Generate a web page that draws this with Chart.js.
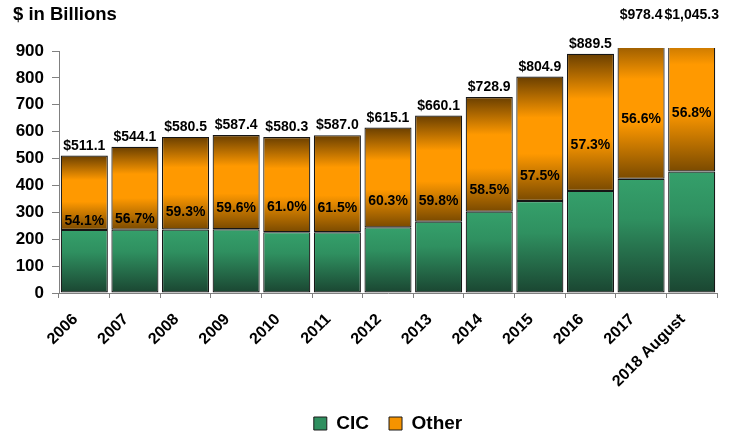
<!DOCTYPE html>
<html>
<head>
<meta charset="utf-8">
<script src="https://cdn.jsdelivr.net/npm/chart.js@4.4.1/dist/chart.umd.min.js"></script>
<style>
  html, body { margin: 0; padding: 0; background: #fff; }
  canvas { display: block; }
</style>
</head>
<body>
<canvas id="chart" width="743" height="436"></canvas>
<script>
// Years on the category axis
const categories = ['2006', '2007', '2008', '2009', '2010', '2011', '2012', '2013', '2014', '2015', '2016', '2017', '2018 August'];
// Total assets, $ billions (label above each bar)
const totals = [511.1, 544.1, 580.5, 587.4, 580.3, 587.0, 615.1, 660.1, 728.9, 804.9, 889.5, 978.4, 1045.3];
// Share of the total held by "Other", percent
const otherShare = [54.1, 56.7, 59.3, 59.6, 61.0, 61.5, 60.3, 59.8, 58.5, 57.5, 57.3, 56.6, 56.8];
// Value-axis tick labels
const yTicks = [0, 100, 200, 300, 400, 500, 600, 700, 800, 900];

// Split each total into its CIC and Other parts from the stated share
const otherValues = totals.map((t, i) => +(t * otherShare[i] / 100).toFixed(1));
const cicValues = totals.map((t, i) => +(t - otherValues[i]).toFixed(1));

// Level (in $ billions) at which each share label is written inside the Other segment
const shareLabelAt = [269, 276, 299, 316, 319, 316, 340, 340, 384, 434, 549, 646, 670];

const FONT = '"Liberation Sans", Arial, Helvetica, sans-serif';
Chart.defaults.font.family = FONT;
Chart.defaults.color = '#000';

const GREEN_STOPS = [[0, '#35a06b'], [0.35, '#2f9060'], [1, '#1a4531']];
const ORANGE_STOPS = [[0, '#6a3f00'], [0.33, '#ff9900'], [0.62, '#ff9900'], [1, '#7a4a00']];

function segmentFill(kind) {
  return (c) => {
    const chart = c.chart;
    if (c.type !== 'data' || !chart.chartArea || !chart.scales.y) {
      return kind === 'cic' ? '#2f8f5f' : '#f59300';
    }
    const y = chart.scales.y;
    const i = c.dataIndex;
    const lo = kind === 'cic' ? 0 : cicValues[i];
    const hi = kind === 'cic' ? cicValues[i] : totals[i];
    const g = chart.ctx.createLinearGradient(0, y.getPixelForValue(hi), 0, y.getPixelForValue(lo));
    (kind === 'cic' ? GREEN_STOPS : ORANGE_STOPS).forEach(([p, col]) => g.addColorStop(p, col));
    return g;
  };
}

// Heading, totals above the bars and the Other share inside each bar
const barLabels = {
  id: 'barLabels',
  afterDatasetsDraw(chart) {
    const { ctx, chartArea, scales: { x, y } } = chart;
    ctx.save();
    ctx.fillStyle = '#000';
    ctx.textAlign = 'left';
    ctx.textBaseline = 'middle';
    ctx.font = 'bold 18.5px ' + FONT;
    ctx.fillText('$ in Billions', 13, 15);

    ctx.textAlign = 'center';
    ctx.font = 'bold 14px ' + FONT;
    categories.forEach((cat, i) => {
      const cx = x.getPixelForValue(i);
      const topPx = y.getPixelForValue(totals[i]);
      const total = '$' + totals[i].toLocaleString('en-US', { minimumFractionDigits: 1, maximumFractionDigits: 1 });
      ctx.textBaseline = 'alphabetic';
      if (topPx < chartArea.top) {
        ctx.fillText(total, cx, 19);
      } else {
        ctx.fillText(total, cx, topPx - 6);
      }
      ctx.textBaseline = 'middle';
      ctx.fillText(otherShare[i].toFixed(1) + '%', cx, y.getPixelForValue(shareLabelAt[i]));
    });
    ctx.restore();
  }
};

const barStyle = {
  borderColor: '#161616',
  borderWidth: 1.2,
  borderSkipped: false,
  barPercentage: 0.93,
  categoryPercentage: 1.0,
  clip: { left: false, top: 3, right: false, bottom: false }
};

new Chart(document.getElementById('chart'), {
  type: 'bar',
  data: {
    labels: categories,
    datasets: [
      Object.assign({ label: 'CIC', data: cicValues, backgroundColor: segmentFill('cic') }, barStyle),
      Object.assign({ label: 'Other', data: otherValues, backgroundColor: segmentFill('other') }, barStyle)
    ]
  },
  options: {
    responsive: false,
    devicePixelRatio: 1,
    animation: false,
    events: [],
    layout: { padding: { top: 51, left: 0, right: 26, bottom: -7 } },
    plugins: {
      tooltip: { enabled: false },
      legend: {
        position: 'bottom',
        fullSize: false,
        labels: {
          font: { size: 19, weight: 'bold' },
          boxWidth: 13,
          boxHeight: 13,
          padding: 20,
          color: '#000',
          generateLabels: () => [
            { text: 'CIC', fillStyle: '#2f8f5f', strokeStyle: '#1a1a1a', lineWidth: 1, datasetIndex: 0, hidden: false },
            { text: 'Other', fillStyle: '#f59300', strokeStyle: '#1a1a1a', lineWidth: 1, datasetIndex: 1, hidden: false }
          ]
        }
      }
    },
    scales: {
      x: {
        stacked: true,
        grid: { offset: true, drawOnChartArea: false, drawTicks: true, tickLength: 5, color: '#808080' },
        border: { display: true, color: '#808080', width: 1 },
        ticks: { font: { size: 16, weight: 'bold' }, minRotation: 45, maxRotation: 45, padding: 12, labelOffset: -9, color: '#000' },
        afterFit: (s) => { s.height = 101; s.paddingLeft = 0; s.paddingRight = 0; }
      },
      y: {
        stacked: true,
        min: 0,
        max: 900,
        afterBuildTicks: (s) => { s.ticks = yTicks.map(v => ({ value: v })); },
        grid: { drawOnChartArea: false, drawTicks: true, tickLength: 7, color: '#808080' },
        border: { display: true, color: '#808080', width: 1 },
        ticks: { font: { size: 17, weight: 'bold' }, padding: 8, color: '#000' },
        afterFit: (s) => { s.width = 59; s.paddingTop = 0; s.paddingBottom = 0; }
      }
    }
  },
  plugins: [barLabels]
});
</script>
</body>
</html>
